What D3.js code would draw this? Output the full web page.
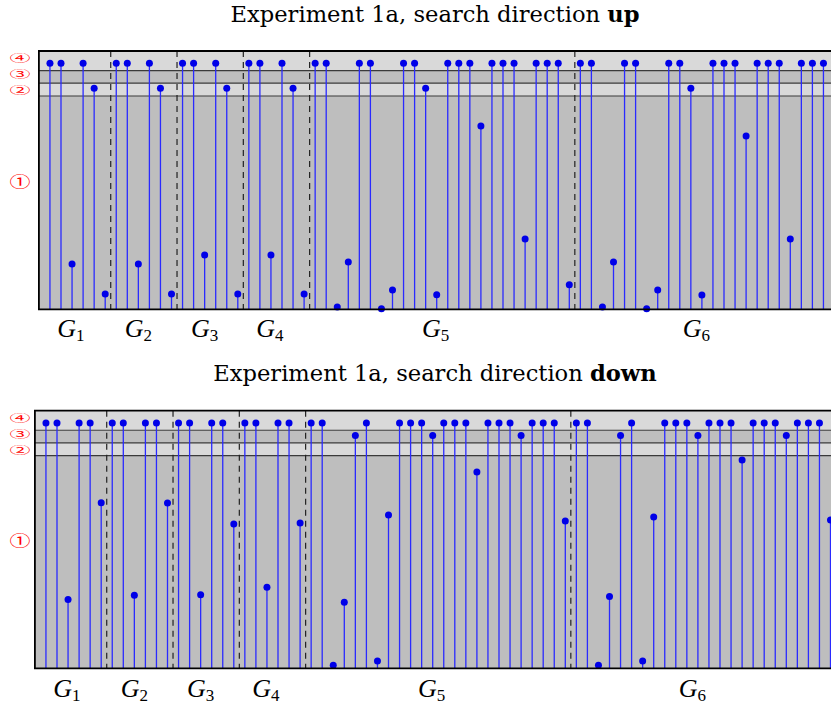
<!DOCTYPE html>
<meta charset="utf-8">
<style>
body { margin: 0; overflow: hidden; background: #fff; }
</style>
<svg id="svg" width="831" height="706"></svg>
<script src="https://d3js.org/d3.v7.min.js"></script>
<script>
// level shortcuts for dots sitting in the upper bands
var T = 11.53, R2 = 10.36, R3 = 10.95;

var groupNames = ["1", "2", "3", "4", "5", "6"];
var groupSizes = [6, 6, 6, 6, 24, 24];
var groupLabelPos = [1.9, 8.0, 14.0, 19.9, 34.9, 58.5];

var regionNames = ["\u2460", "\u2461", "\u2462", "\u2463"];
var regionBreaks = [0, 10, 10.6, 11.19, 12.11];
var regionLabelPos = [6.0, 10.27, 11.0, 11.76];

var upValues = [
    T, T, 2.12, T, R2, 0.72,
    T, T, 2.12, T, R2, 0.72,
    T, T, 2.55, T, R2, 0.72,
    T, T, 2.55, T, R2, 0.72,
    T, T, 0.11, 2.22, T, T, 0.02, 0.90, T, T, R2, 0.68,
    T, T, T, 8.59, T, T, T, 3.30, T, T, T, 1.15,
    T, T, 0.11, 2.22, T, T, 0.02, 0.90, T, T, R2, 0.67,
    T, T, T, 8.12, T, T, T, 3.30, T, T, T, 1.15
];

var downValues = [
    T, T, 3.24, T, T, 7.78,
    T, T, 3.43, T, T, 7.77,
    T, T, 3.46, T, T, 6.78,
    T, T, 3.81, T, T, 6.83,
    T, T, 0.14, 3.10, R3, T, 0.34, 7.21, T, T, T, R3,
    T, T, T, 9.23, T, T, T, R3, T, T, T, 6.92,
    T, T, 0.14, 3.37, R3, T, 0.34, 7.11, T, T, T, R3,
    T, T, T, 9.79, T, T, T, R3, T, T, T, 6.97
];

var svg = d3.select("#svg");
var step = 11.05;
var n = upValues.length;

function drawPanel(opt) {
    var x = d3.scaleLinear().domain([-1, n]).range([opt.left, opt.left + (n + 1) * step]);
    var y = d3.scaleLinear().domain([0, regionBreaks[4]]).range([opt.bottom, opt.top]);
    var g = svg.append("g");
    var x0 = x(-1), x1 = x(n);

    // title
    var t = g.append("text")
        .attr("x", 435)
        .attr("y", opt.titleY)
        .attr("text-anchor", "middle")
        .attr("font-family", "DejaVu Serif")
        .attr("font-size", 22.6)
        .text("Experiment 1a, search direction ");
    t.append("tspan").attr("font-weight", "bold").text(opt.word);

    // bands
    g.selectAll("rect.band")
        .data(d3.range(4))
        .enter().append("rect")
        .attr("x", x0)
        .attr("width", x1 - x0)
        .attr("y", function(i) { return y(regionBreaks[i + 1]); })
        .attr("height", function(i) { return y(regionBreaks[i]) - y(regionBreaks[i + 1]); })
        .attr("fill", function(i) { return i % 2 == 0 ? "#bebebe" : "#d9d9d9"; });

    g.selectAll("line.band")
        .data(regionBreaks.slice(1, 4))
        .enter().append("line")
        .attr("x1", x0).attr("x2", x1)
        .attr("y1", function(d) { return y(d); })
        .attr("y2", function(d) { return y(d); })
        .attr("stroke", "#3a3a3a")
        .attr("stroke-width", 1.2);

    // group separators
    var bounds = d3.cumsum(groupSizes).slice(0, groupSizes.length - 1);
    g.selectAll("line.sep")
        .data(bounds)
        .enter().append("line")
        .attr("x1", function(d) { return x(d - 0.5); })
        .attr("x2", function(d) { return x(d - 0.5); })
        .attr("y1", y(regionBreaks[4]))
        .attr("y2", y(0))
        .attr("stroke", "#222")
        .attr("stroke-width", 1.2)
        .attr("stroke-dasharray", "6,5");

    // stems
    g.selectAll("line.stem")
        .data(opt.values)
        .enter().append("line")
        .attr("x1", function(d, i) { return x(i); })
        .attr("x2", function(d, i) { return x(i); })
        .attr("y1", y(0))
        .attr("y2", function(d) { return y(d); })
        .attr("stroke", "#2a2aff")
        .attr("stroke-width", 1.3);

    g.selectAll("circle")
        .data(opt.values)
        .enter().append("circle")
        .attr("cx", function(d, i) { return x(i); })
        .attr("cy", function(d) { return y(d); })
        .attr("r", 3.5)
        .attr("fill", "#0000e8");

    // frame
    g.append("path")
        .attr("d", "M" + x1 + "," + y(regionBreaks[4]) + "H" + x0 + "V" + y(0) + "H" + x1)
        .attr("fill", "none")
        .attr("stroke", "#000")
        .attr("stroke-width", 1.8);

    // region labels (the three upper ones are squeezed so they don't collide)
    g.selectAll("text.region")
        .data(regionNames)
        .enter().append("text")
        .attr("transform", function(d, i) {
            return "translate(20," + y(regionLabelPos[i]) + ") scale(1," + (i == 0 ? 0.72 : 0.5) + ")";
        })
        .attr("text-anchor", "middle")
        .attr("dy", "0.36em")
        .attr("font-family", "Noto Sans CJK JP")
        .attr("font-size", 21)
        .attr("fill", "#ff0000")
        .text(function(d) { return d; });

    // group labels
    var gl = g.selectAll("text.group")
        .data(groupNames)
        .enter().append("text")
        .attr("x", function(d, i) { return x(groupLabelPos[i]); })
        .attr("y", opt.labelY)
        .attr("text-anchor", "middle")
        .attr("font-family", "Liberation Serif")
        .attr("font-size", 26);
    gl.append("tspan").attr("font-style", "italic").text("G");
    gl.append("tspan").attr("font-size", 17).attr("dy", 4).text(function(d) { return d; });
}

drawPanel({ word: "up", values: upValues, left: 38.9, top: 51, bottom: 309.3, titleY: 22, labelY: 337 });
drawPanel({ word: "down", values: downValues, left: 34.9, top: 410.7, bottom: 668.3, titleY: 381, labelY: 697 });
</script>
